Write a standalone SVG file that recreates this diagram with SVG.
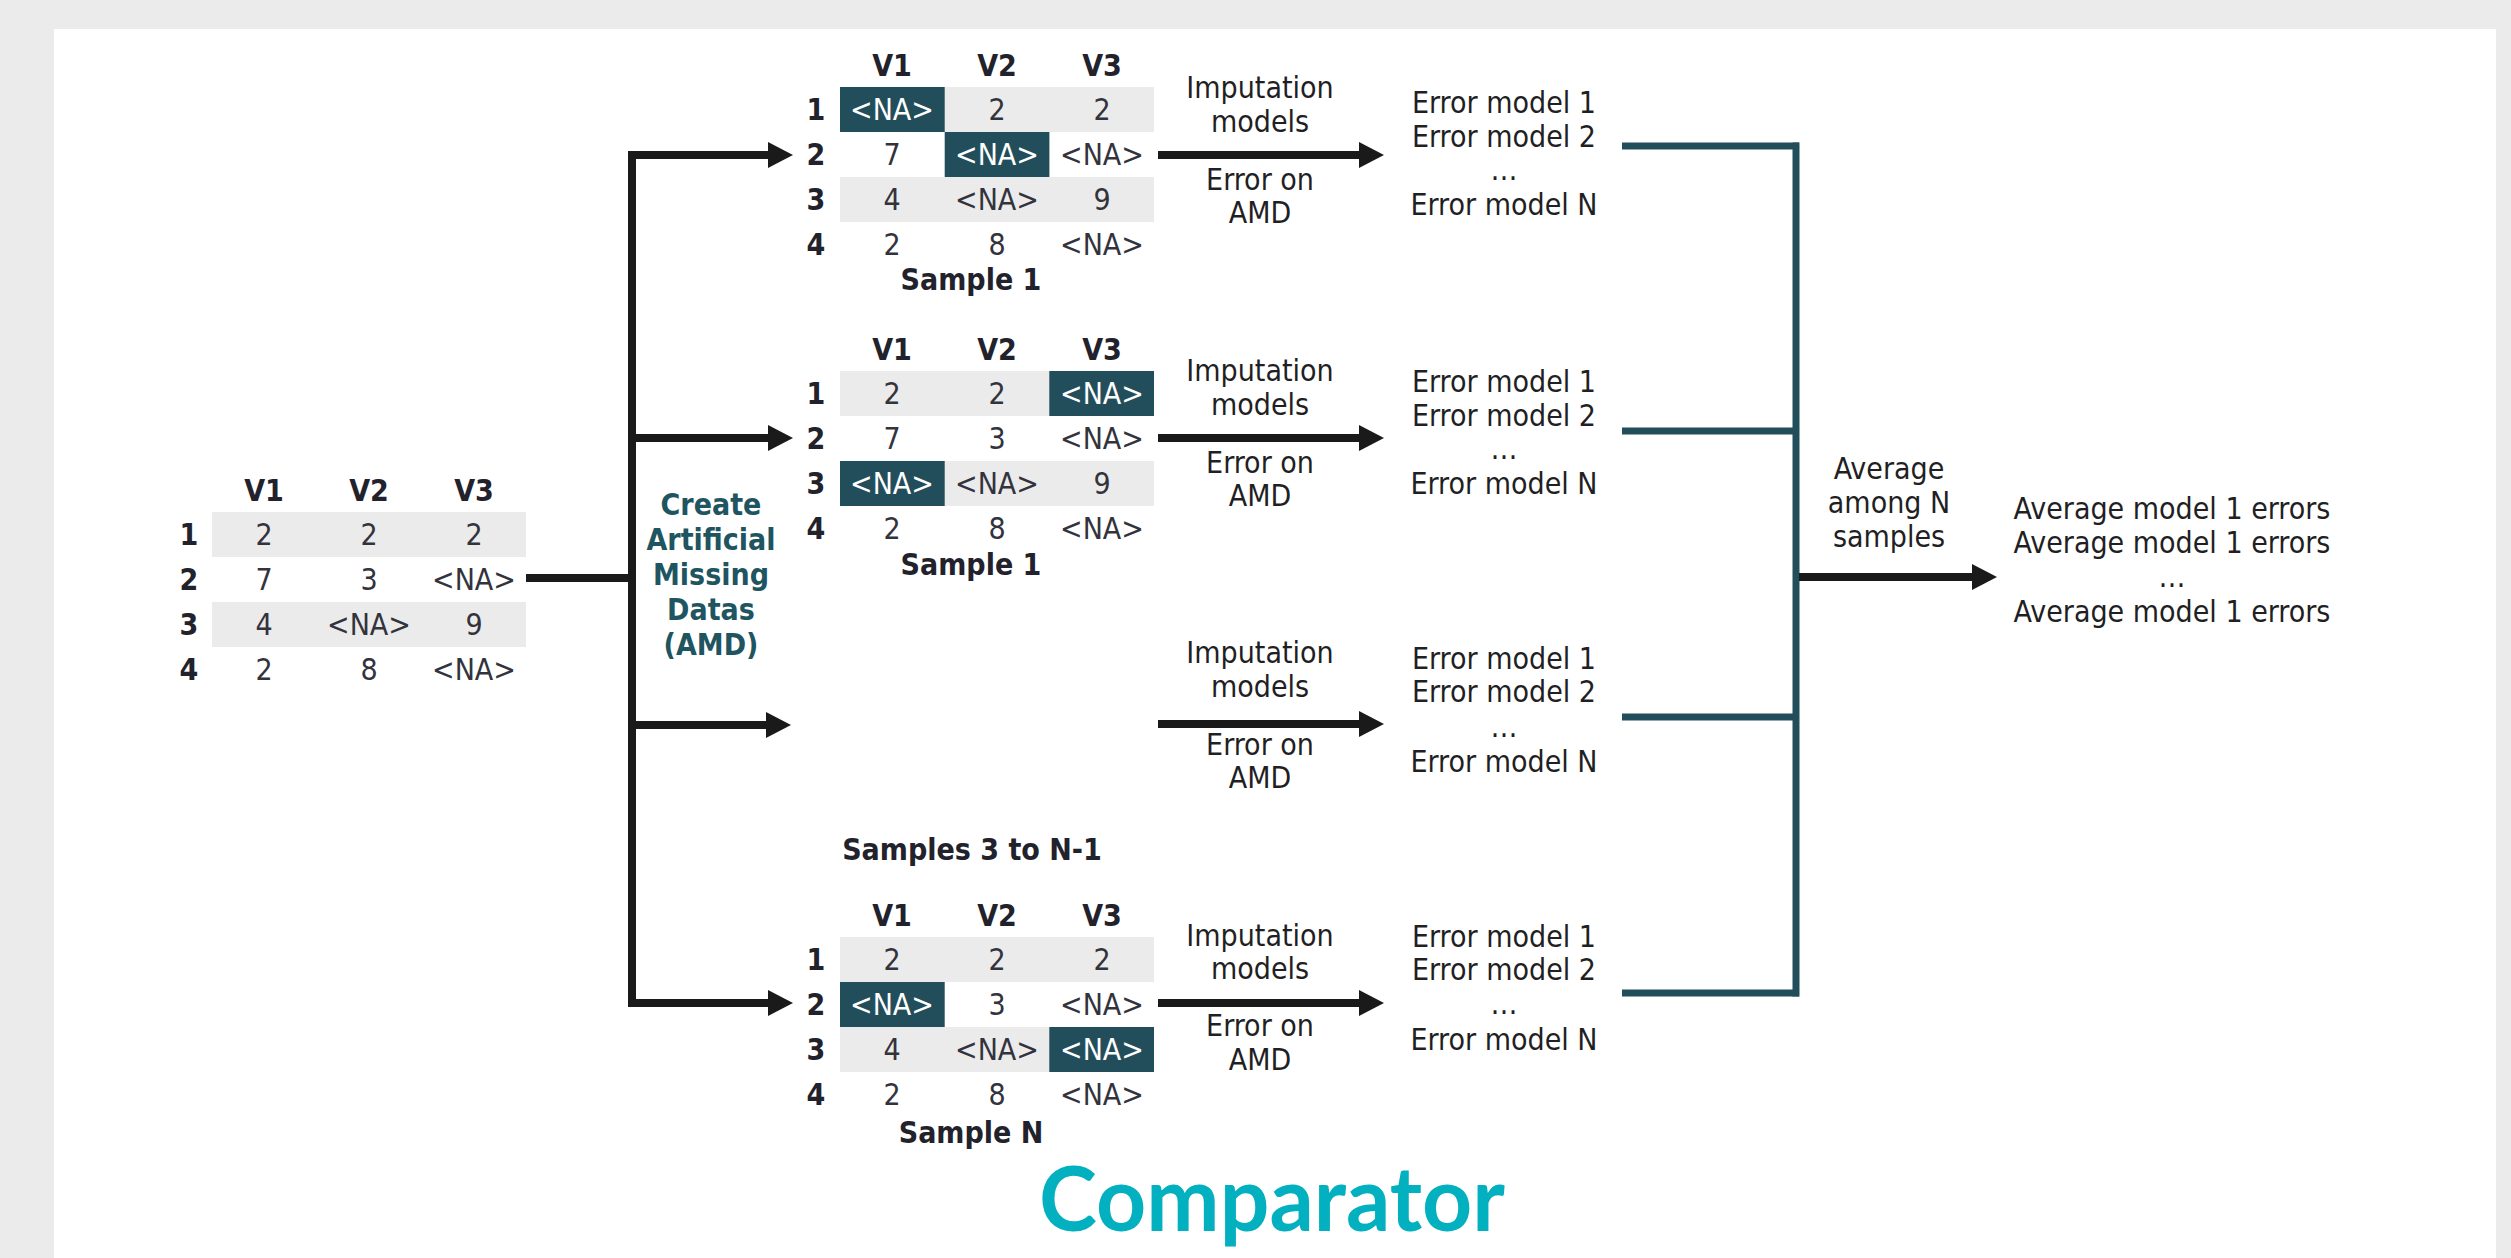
<svg xmlns="http://www.w3.org/2000/svg" width="2511" height="1258" viewBox="0 0 2511 1258">
<defs>
<style>
.t{font-family:"DejaVu Sans Condensed","DejaVu Sans",sans-serif;font-stretch:condensed;font-size:30px;fill:#1f1f24;text-anchor:middle}
.c{fill:#33333d}
.w{fill:#ffffff}
.b{font-weight:bold;fill:#22222c}
.amd{font-family:"DejaVu Sans Condensed","DejaVu Sans",sans-serif;font-stretch:condensed;font-size:30px;font-weight:bold;fill:#1f5461;text-anchor:middle}
.band{fill:#ebebeb}
.na{fill:#224e5b}
.blk{stroke:#1a1a1a;stroke-width:8;fill:none}
.teal{stroke:#224e5b;stroke-width:7;fill:none}
.title{font-family:Lato,"Open Sans",sans-serif;font-weight:bold;font-size:90px;fill:#03b0c0;text-anchor:middle}
</style>
<marker id="ah" markerUnits="userSpaceOnUse" markerWidth="26" markerHeight="28" refX="0" refY="14" orient="auto">
<path d="M0,1 L25,14 L0,27 Z" fill="#1a1a1a"/>
</marker>
</defs>
<rect x="0" y="0" width="2511" height="1258" fill="#ebebeb"/>
<rect x="54" y="29" width="2442" height="1229" fill="#ffffff"/>

<g id="connectors">
<line class="blk" x1="526" y1="578" x2="636" y2="578"/>
<line class="blk" x1="632" y1="151" x2="632" y2="1007"/>
<line class="blk" x1="628" y1="155" x2="768" y2="155" marker-end="url(#ah)"/>
<line class="blk" x1="628" y1="438" x2="768" y2="438" marker-end="url(#ah)"/>
<line class="blk" x1="628" y1="725" x2="766" y2="725" marker-end="url(#ah)"/>
<line class="blk" x1="628" y1="1003" x2="768" y2="1003" marker-end="url(#ah)"/>
<line class="blk" x1="1158" y1="155" x2="1359" y2="155" marker-end="url(#ah)"/>
<line class="blk" x1="1158" y1="438" x2="1359" y2="438" marker-end="url(#ah)"/>
<line class="blk" x1="1158" y1="724" x2="1359" y2="724" marker-end="url(#ah)"/>
<line class="blk" x1="1158" y1="1003" x2="1359" y2="1003" marker-end="url(#ah)"/>
<line class="teal" x1="1622" y1="146" x2="1799" y2="146"/>
<line class="teal" x1="1622" y1="431" x2="1796" y2="431"/>
<line class="teal" x1="1622" y1="717" x2="1796" y2="717"/>
<line class="teal" x1="1622" y1="993" x2="1799" y2="993"/>
<line class="teal" x1="1796" y1="142.5" x2="1796" y2="996.5"/>
<line class="blk" x1="1799" y1="577" x2="1972" y2="577" marker-end="url(#ah)"/>
</g>

<g id="source-table" transform="translate(212,512)">
<rect class="band" x="0" y="0" width="314" height="45"/>
<rect class="band" x="0" y="90" width="314" height="45"/>
<text class="t b" x="52" y="-11">V1</text><text class="t b" x="157" y="-11">V2</text><text class="t b" x="262" y="-11">V3</text>
<text class="t b" x="-23" y="33">1</text><text class="t b" x="-23" y="78">2</text><text class="t b" x="-23" y="123">3</text><text class="t b" x="-23" y="168">4</text>
<text class="t c" x="52" y="33">2</text><text class="t c" x="157" y="33">2</text><text class="t c" x="262" y="33">2</text>
<text class="t c" x="52" y="78">7</text><text class="t c" x="157" y="78">3</text><text class="t c" x="262" y="78">&lt;NA&gt;</text>
<text class="t c" x="52" y="123">4</text><text class="t c" x="157" y="123">&lt;NA&gt;</text><text class="t c" x="262" y="123">9</text>
<text class="t c" x="52" y="168">2</text><text class="t c" x="157" y="168">8</text><text class="t c" x="262" y="168">&lt;NA&gt;</text>
</g>

<g id="amd-label">
<text class="amd" x="711" y="515">Create</text>
<text class="amd" x="711" y="550">Artificial</text>
<text class="amd" x="711" y="585">Missing</text>
<text class="amd" x="711" y="620">Datas</text>
<text class="amd" x="711" y="655">(AMD)</text>
</g>

<g id="sample-1" transform="translate(840,87)">
<rect class="band" x="0" y="0" width="314" height="45"/>
<rect class="band" x="0" y="90" width="314" height="45"/>
<rect class="na" x="0" y="0" width="104.7" height="45"/>
<rect class="na" x="104.7" y="45" width="104.7" height="45"/>
<text class="t b" x="52" y="-11">V1</text><text class="t b" x="157" y="-11">V2</text><text class="t b" x="262" y="-11">V3</text>
<text class="t b" x="-24" y="33">1</text><text class="t b" x="-24" y="78">2</text><text class="t b" x="-24" y="123">3</text><text class="t b" x="-24" y="168">4</text>
<text class="t w" x="52" y="33">&lt;NA&gt;</text><text class="t c" x="157" y="33">2</text><text class="t c" x="262" y="33">2</text>
<text class="t c" x="52" y="78">7</text><text class="t w" x="157" y="78">&lt;NA&gt;</text><text class="t c" x="262" y="78">&lt;NA&gt;</text>
<text class="t c" x="52" y="123">4</text><text class="t c" x="157" y="123">&lt;NA&gt;</text><text class="t c" x="262" y="123">9</text>
<text class="t c" x="52" y="168">2</text><text class="t c" x="157" y="168">8</text><text class="t c" x="262" y="168">&lt;NA&gt;</text>
<text class="t b" x="131" y="203">Sample 1</text>
</g>

<g id="sample-2" transform="translate(840,371)">
<rect class="band" x="0" y="0" width="314" height="45"/>
<rect class="band" x="0" y="90" width="314" height="45"/>
<rect class="na" x="209.3" y="0" width="104.7" height="45"/>
<rect class="na" x="0" y="90" width="104.7" height="45"/>
<text class="t b" x="52" y="-11">V1</text><text class="t b" x="157" y="-11">V2</text><text class="t b" x="262" y="-11">V3</text>
<text class="t b" x="-24" y="33">1</text><text class="t b" x="-24" y="78">2</text><text class="t b" x="-24" y="123">3</text><text class="t b" x="-24" y="168">4</text>
<text class="t c" x="52" y="33">2</text><text class="t c" x="157" y="33">2</text><text class="t w" x="262" y="33">&lt;NA&gt;</text>
<text class="t c" x="52" y="78">7</text><text class="t c" x="157" y="78">3</text><text class="t c" x="262" y="78">&lt;NA&gt;</text>
<text class="t w" x="52" y="123">&lt;NA&gt;</text><text class="t c" x="157" y="123">&lt;NA&gt;</text><text class="t c" x="262" y="123">9</text>
<text class="t c" x="52" y="168">2</text><text class="t c" x="157" y="168">8</text><text class="t c" x="262" y="168">&lt;NA&gt;</text>
<text class="t b" x="131" y="204">Sample 1</text>
</g>

<g id="samples-3-to-n-1">
<text class="t b" x="972" y="860">Samples 3 to N-1</text>
</g>

<g id="sample-n" transform="translate(840,937)">
<rect class="band" x="0" y="0" width="314" height="45"/>
<rect class="band" x="0" y="90" width="314" height="45"/>
<rect class="na" x="0" y="45" width="104.7" height="45"/>
<rect class="na" x="209.3" y="90" width="104.7" height="45"/>
<text class="t b" x="52" y="-11">V1</text><text class="t b" x="157" y="-11">V2</text><text class="t b" x="262" y="-11">V3</text>
<text class="t b" x="-24" y="33">1</text><text class="t b" x="-24" y="78">2</text><text class="t b" x="-24" y="123">3</text><text class="t b" x="-24" y="168">4</text>
<text class="t c" x="52" y="33">2</text><text class="t c" x="157" y="33">2</text><text class="t c" x="262" y="33">2</text>
<text class="t w" x="52" y="78">&lt;NA&gt;</text><text class="t c" x="157" y="78">3</text><text class="t c" x="262" y="78">&lt;NA&gt;</text>
<text class="t c" x="52" y="123">4</text><text class="t c" x="157" y="123">&lt;NA&gt;</text><text class="t w" x="262" y="123">&lt;NA&gt;</text>
<text class="t c" x="52" y="168">2</text><text class="t c" x="157" y="168">8</text><text class="t c" x="262" y="168">&lt;NA&gt;</text>
<text class="t b" x="131" y="206">Sample N</text>
</g>

<g id="imputation-1">
<text class="t" x="1260" y="98">Imputation</text><text class="t" x="1260" y="132">models</text>
<text class="t" x="1260" y="190">Error on</text><text class="t" x="1260" y="223">AMD</text>
</g>
<g id="imputation-2">
<text class="t" x="1260" y="381">Imputation</text><text class="t" x="1260" y="415">models</text>
<text class="t" x="1260" y="473">Error on</text><text class="t" x="1260" y="506">AMD</text>
</g>
<g id="imputation-3">
<text class="t" x="1260" y="663">Imputation</text><text class="t" x="1260" y="697">models</text>
<text class="t" x="1260" y="755">Error on</text><text class="t" x="1260" y="788">AMD</text>
</g>
<g id="imputation-n">
<text class="t" x="1260" y="946">Imputation</text><text class="t" x="1260" y="979">models</text>
<text class="t" x="1260" y="1036">Error on</text><text class="t" x="1260" y="1070">AMD</text>
</g>

<g id="errors-1">
<text class="t" x="1504" y="113">Error model 1</text><text class="t" x="1504" y="147">Error model 2</text>
<text class="t" x="1504" y="180">…</text><text class="t" x="1504" y="215">Error model N</text>
</g>
<g id="errors-2">
<text class="t" x="1504" y="392">Error model 1</text><text class="t" x="1504" y="426">Error model 2</text>
<text class="t" x="1504" y="459">…</text><text class="t" x="1504" y="494">Error model N</text>
</g>
<g id="errors-3">
<text class="t" x="1504" y="669">Error model 1</text><text class="t" x="1504" y="702">Error model 2</text>
<text class="t" x="1504" y="737">…</text><text class="t" x="1504" y="772">Error model N</text>
</g>
<g id="errors-n">
<text class="t" x="1504" y="947">Error model 1</text><text class="t" x="1504" y="980">Error model 2</text>
<text class="t" x="1504" y="1014">…</text><text class="t" x="1504" y="1050">Error model N</text>
</g>

<g id="average-label">
<text class="t" x="1889" y="479">Average</text><text class="t" x="1889" y="513">among N</text><text class="t" x="1889" y="547">samples</text>
</g>
<g id="average-results">
<text class="t" x="2172" y="519">Average model 1 errors</text>
<text class="t" x="2172" y="553">Average model 1 errors</text>
<text class="t" x="2172" y="587">…</text>
<text class="t" x="2172" y="622">Average model 1 errors</text>
</g>

<g id="title">
<text class="title" x="1272" y="1231" textLength="466" lengthAdjust="spacingAndGlyphs">Comparator</text>
</g>
</svg>
